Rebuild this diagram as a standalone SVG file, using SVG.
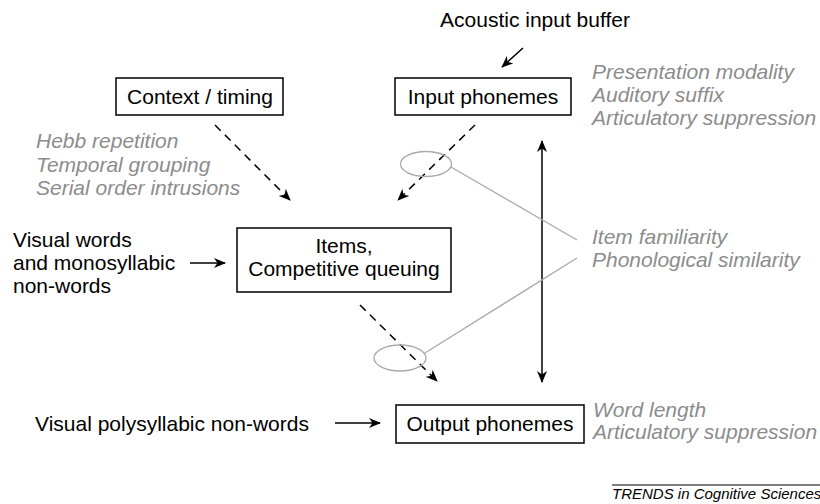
<svg xmlns="http://www.w3.org/2000/svg" width="820" height="504" viewBox="0 0 820 504">
<defs>
<marker id="ah" viewBox="0 0 12 10" refX="11" refY="5" markerWidth="12" markerHeight="10" markerUnits="userSpaceOnUse" orient="auto">
<path d="M0,0 L12,5 L0,10 L3.5,5 z" fill="#000"/>
</marker>
<marker id="ahs" viewBox="0 0 12 10" refX="1" refY="5" markerWidth="12" markerHeight="10" markerUnits="userSpaceOnUse" orient="auto">
<path d="M12,0 L0,5 L12,10 L8.5,5 z" fill="#000"/>
</marker>
<style>
.box{fill:#fff;stroke:#000;stroke-width:1.5}
.t{font-family:"Liberation Sans",Arial,sans-serif;font-size:21px;fill:#000}
.g{font-family:"Liberation Sans",Arial,sans-serif;font-size:21px;font-style:italic;fill:#8c8c8c}
.c{text-anchor:middle}
.a{stroke:#000;stroke-width:1.5;fill:none;marker-end:url(#ah)}
.d{stroke-dasharray:8,6}
.gl{stroke:#aaa;stroke-width:1.3;fill:none}
</style>
</defs>
<rect width="820" height="504" fill="#fff"/>
<g id="connectors">
<line class="a" x1="523" y1="48" x2="502" y2="67"/>
<line class="a d" x1="215" y1="125" x2="290" y2="200"/>
<line class="a d" x1="475" y1="125" x2="398" y2="200"/>
<line class="a d" x1="360" y1="305" x2="437" y2="381"/>
<line class="a" x1="542" y1="141" x2="542" y2="382" style="marker-start:url(#ahs)"/>
<line class="a" x1="190" y1="263" x2="225" y2="263"/>
<line class="a" x1="335" y1="423" x2="380" y2="423"/>
<ellipse class="gl" cx="426" cy="164" rx="25.5" ry="12.5"/>
<ellipse class="gl" cx="400" cy="358" rx="26" ry="13"/>
<line class="gl" x1="451" y1="167" x2="577" y2="240"/>
<line class="gl" x1="577" y1="258" x2="425" y2="353"/>
</g>
<g id="acoustic"><text class="t c" x="535" y="27">Acoustic input buffer</text></g>
<g id="context"><rect class="box" x="116" y="78" width="167" height="37"/><text class="t c" x="200" y="104">Context / timing</text></g>
<g id="input"><rect class="box" x="395" y="78" width="176" height="37"/><text class="t c" x="483" y="104">Input phonemes</text></g>
<g id="items"><rect class="box" x="237" y="228" width="214" height="64"/><text class="t c" x="344" y="253">Items,</text><text class="t c" x="344" y="276">Competitive queuing</text></g>
<g id="output"><rect class="box" x="396" y="405" width="188" height="38"/><text class="t c" x="490" y="431">Output phonemes</text></g>
<g id="visual-words"><text class="t" x="13" y="247">Visual words</text><text class="t" x="13" y="270">and monosyllabic</text><text class="t" x="13" y="293">non-words</text></g>
<g id="visual-poly"><text class="t" x="35" y="431">Visual polysyllabic non-words</text></g>
<g id="input-effects"><text class="g" x="592" y="79">Presentation modality</text><text class="g" x="592" y="102">Auditory suffix</text><text class="g" x="592" y="125">Articulatory suppression</text></g>
<g id="context-effects"><text class="g" x="36" y="148">Hebb repetition</text><text class="g" x="36" y="172">Temporal grouping</text><text class="g" x="36" y="195">Serial order intrusions</text></g>
<g id="item-effects"><text class="g" x="592" y="244">Item familiarity</text><text class="g" x="592" y="267">Phonological similarity</text></g>
<g id="output-effects"><text class="g" x="593" y="417">Word length</text><text class="g" x="593" y="439">Articulatory suppression</text></g>
<g id="credit"><line x1="612" y1="485" x2="820" y2="485" stroke="#000" stroke-width="1"/><text x="612" y="499" font-family="'Liberation Sans',Arial,sans-serif" font-size="15" font-style="italic" fill="#000">TRENDS in Cognitive Sciences</text></g>
</svg>
